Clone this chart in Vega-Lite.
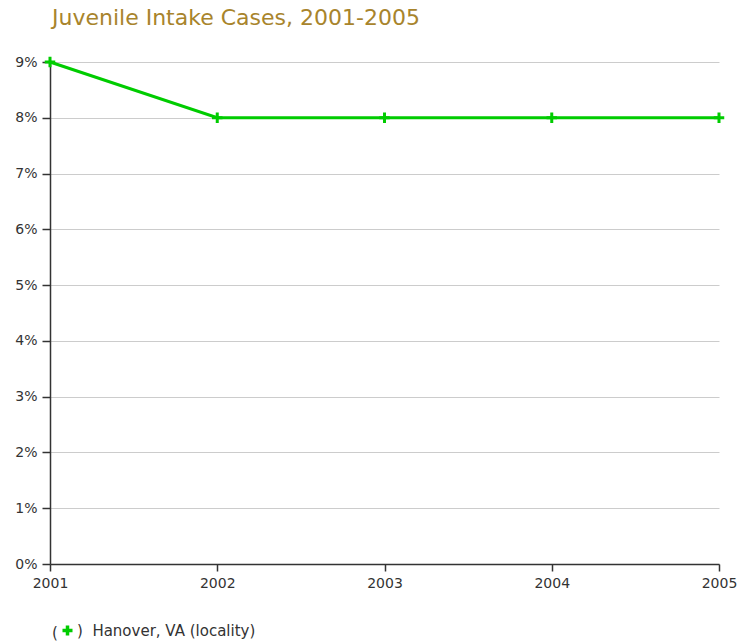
{
  "$schema": "https://vega.github.io/schema/vega-lite/v6.json",
  "width": 669,
  "height": 502,
  "autosize": "none",
  "padding": {"left": 50, "top": 62, "right": 20, "bottom": 80},
  "background": "white",
  "title": {
    "text": "Juvenile Intake Cases, 2001-2005",
    "anchor": "start",
    "frame": "group",
    "dx": 2,
    "offset": 21,
    "font": "DejaVu Sans",
    "fontSize": 22,
    "fontWeight": "normal",
    "color": "#a8842c"
  },
  "config": {
    "view": {"stroke": null},
    "axis": {
      "labelFont": "DejaVu Sans",
      "labelFontSize": 14,
      "labelColor": "#333333",
      "domainColor": "#333333",
      "tickColor": "#333333",
      "tickSize": 7,
      "domainWidth": 1.5,
      "tickWidth": 1.5
    }
  },
  "data": {
    "values": [
      {"year": 2001, "share": 0.09, "place": "Hanover, VA (locality)"},
      {"year": 2002, "share": 0.08, "place": "Hanover, VA (locality)"},
      {"year": 2003, "share": 0.08, "place": "Hanover, VA (locality)"},
      {"year": 2004, "share": 0.08, "place": "Hanover, VA (locality)"},
      {"year": 2005, "share": 0.08, "place": "Hanover, VA (locality)"}
    ]
  },
  "encoding": {
    "x": {
      "field": "year",
      "type": "quantitative",
      "scale": {"domain": [2001, 2005], "nice": false, "zero": false},
      "axis": {"title": null, "values": [2001, 2002, 2003, 2004, 2005], "format": "d", "grid": false, "labelPadding": 5, "labelFlush": false}
    },
    "y": {
      "field": "share",
      "type": "quantitative",
      "scale": {"domain": [0, 0.09], "nice": false},
      "axis": {
        "title": null,
        "values": [0, 0.01, 0.02, 0.03, 0.04, 0.05, 0.06, 0.07, 0.08, 0.09],
        "format": ".0%",
        "grid": true,
        "gridColor": "#cccccc",
        "gridWidth": 1,
        "tickSize": 8,
        "labelPadding": 5
      }
    }
  },
  "layer": [
    {
      "mark": {"type": "line", "strokeWidth": 3, "color": "#00cc00"},
      "encoding": {}
    },
    {
      "mark": {"type": "point", "filled": false, "strokeWidth": 3, "shape": "M-1,0H1M0,-1V1", "size": 110, "opacity": 1},
      "encoding": {
        "color": {
          "field": "place",
          "type": "nominal",
          "scale": {"range": ["#00cc00"]},
          "legend": {
            "title": "(",
            "titleOrient": "left",
            "titleFont": "DejaVu Sans",
            "titleFontSize": 15,
            "titleFontWeight": "normal",
            "titleColor": "#333333",
            "titlePadding": 2,
            "orient": "none",
            "legendX": 2,
            "legendY": 561,
            "symbolType": "M-1,0H1M0,-1V1",
            "symbolSize": 100,
            "symbolStrokeWidth": 3.5,
            "symbolFillColor": "transparent",
            "symbolStrokeColor": "#00cc00",
            "labelExpr": "')\u00a0\u00a0' + datum.label",
            "labelFont": "DejaVu Sans",
            "labelFontSize": 15,
            "labelColor": "#333333",
            "labelOffset": 2,
            "labelLimit": 400
          }
        }
      }
    }
  ]
}
